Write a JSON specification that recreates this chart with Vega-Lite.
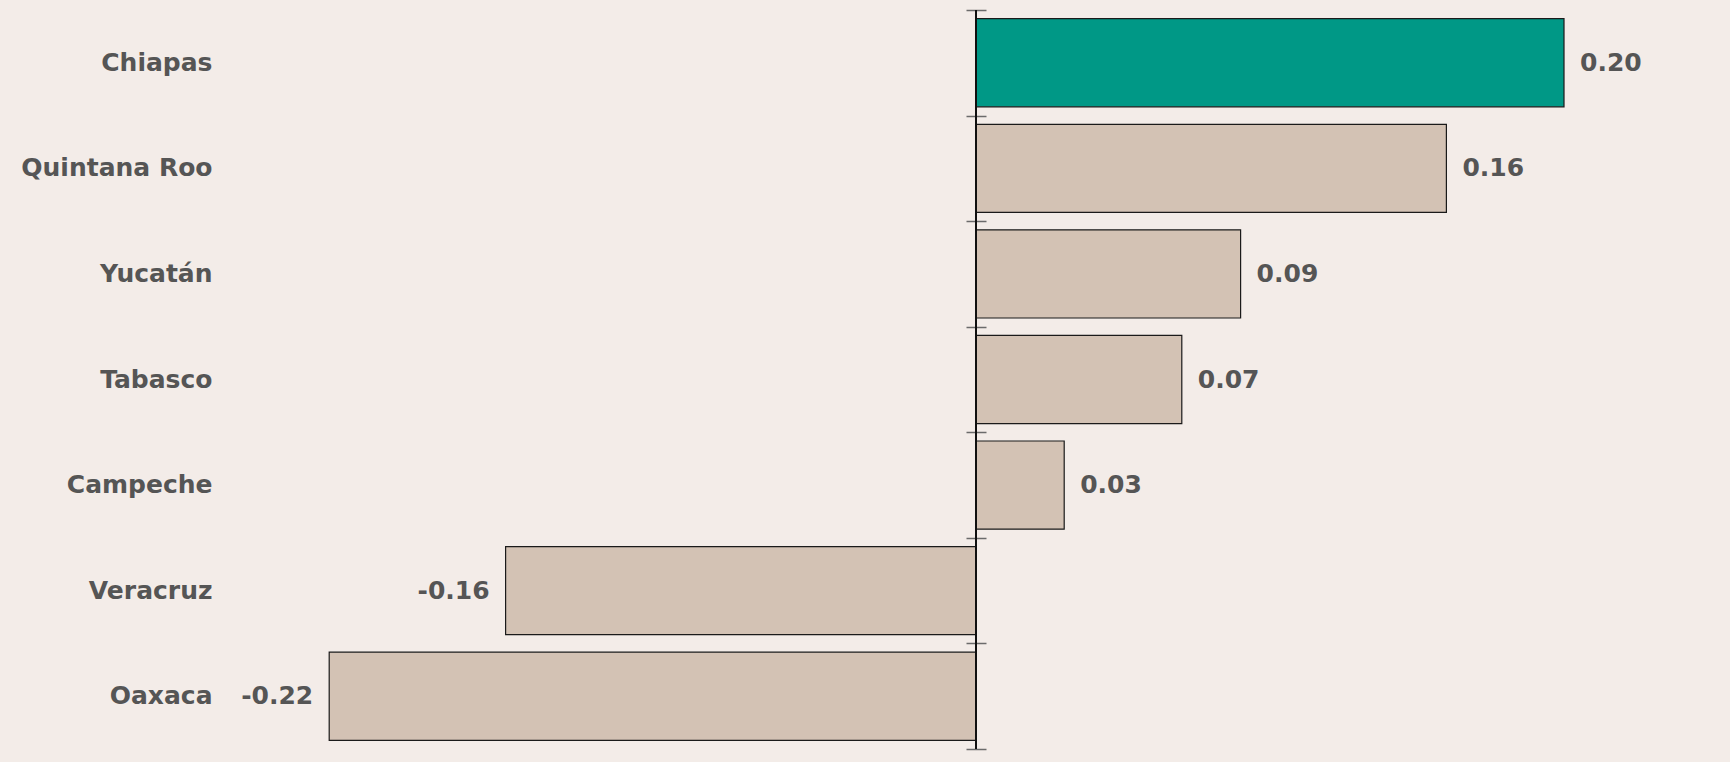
{
  "$schema": "https://vega.github.io/schema/vega-lite/v6.json",
  "autosize": {"type": "none"},
  "padding": {"left": 241, "top": 10, "right": 19, "bottom": 13},
  "width": 1470,
  "height": 739,
  "background": "#f3ece8",
  "config": {"view": {"stroke": null}},
  "data": {
    "values": [
      {"estado": "Chiapas", "valor": 0.20},
      {"estado": "Quintana Roo", "valor": 0.16},
      {"estado": "Yucatán", "valor": 0.09},
      {"estado": "Tabasco", "valor": 0.07},
      {"estado": "Campeche", "valor": 0.03},
      {"estado": "Veracruz", "valor": -0.16},
      {"estado": "Oaxaca", "valor": -0.22}
    ]
  },
  "transform": [
    {"calculate": "replace(format(datum.valor, '.2f'), '\u2212', '-')", "as": "etiqueta"}
  ],
  "layer": [
    {
      "mark": {"type": "bar", "height": {"band": 0.835}, "stroke": "#1a1a1a", "strokeWidth": 1.2},
      "encoding": {
        "y": {
          "field": "estado",
          "type": "nominal",
          "sort": null,
          "scale": {"paddingInner": 0, "paddingOuter": 0},
          "axis": {
            "title": null,
            "domain": false,
            "ticks": false,
            "tickSize": 0,
            "labelPadding": 29,
            "labelLimit": 0,
            "labelFont": "DejaVu Sans",
            "labelFontWeight": "bold",
            "labelFontSize": 25,
            "labelColor": "#555555"
          }
        },
        "x": {
          "field": "valor",
          "type": "quantitative",
          "scale": {"domain": [-0.25, 0.25], "nice": false, "zero": true},
          "axis": null
        },
        "color": {
          "condition": {"test": "datum.estado === 'Chiapas'", "value": "#009886"},
          "value": "#d3c2b4"
        }
      }
    },
    {
      "transform": [{"filter": "datum.valor >= 0"}],
      "mark": {"type": "text", "align": "left", "baseline": "middle", "dx": 16, "font": "DejaVu Sans", "fontWeight": "bold", "fontSize": 25, "color": "#555555"},
      "encoding": {
        "y": {"field": "estado", "type": "nominal", "sort": null, "axis": null},
        "x": {"field": "valor", "type": "quantitative", "axis": null},
        "text": {"field": "etiqueta"}
      }
    },
    {
      "transform": [{"filter": "datum.valor < 0"}],
      "mark": {"type": "text", "align": "right", "baseline": "middle", "dx": -16, "font": "DejaVu Sans", "fontWeight": "bold", "fontSize": 25, "color": "#555555"},
      "encoding": {
        "y": {"field": "estado", "type": "nominal", "sort": null, "axis": null},
        "x": {"field": "valor", "type": "quantitative", "axis": null},
        "text": {"field": "etiqueta"}
      }
    },
    {
      "mark": {"type": "rule", "color": "#111111", "strokeWidth": 1.5},
      "encoding": {
        "x": {"datum": 0, "type": "quantitative", "axis": null}
      }
    },
    {
      "mark": {"type": "tick", "opacity": 0},
      "encoding": {
        "y": {
          "field": "estado",
          "type": "nominal",
          "sort": null,
          "axis": {
            "orient": "right",
            "offset": -745,
            "title": null,
            "labels": false,
            "domain": false,
            "ticks": true,
            "tickBand": "extent",
            "tickSize": 20,
            "tickColor": "#6b6b6b",
            "tickWidth": 1.5
          }
        },
        "x": {"field": "valor", "type": "quantitative", "axis": null}
      }
    }
  ],
  "resolve": {"axis": {"y": "independent"}}
}
